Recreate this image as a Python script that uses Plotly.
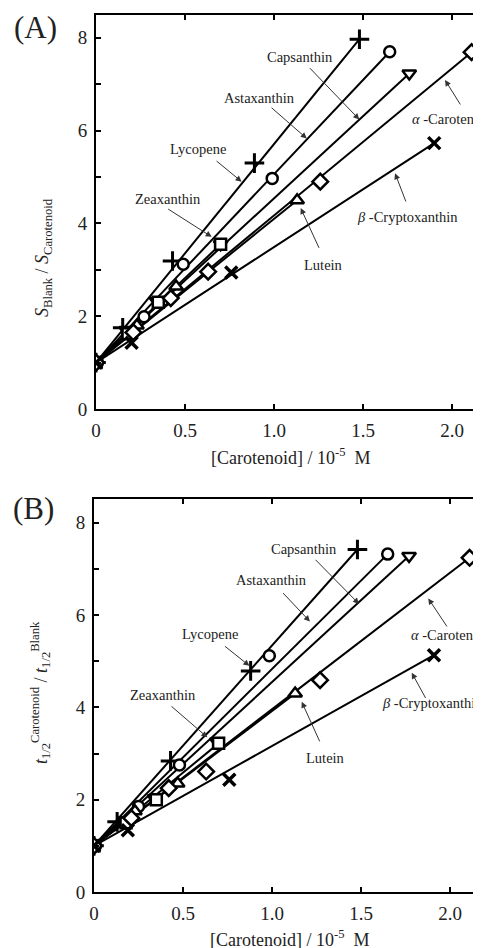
import plotly.graph_objects as go

W, H = 481, 948
OFF = 8  # browser default body margin
FONT = "Liberation Serif"

series_names = ["Lycopene", "Astaxanthin", "Capsanthin", "Zeaxanthin", "Lutein", "α-Carotene", "β-Cryptoxanthin"]
symbols = ["cross-thin", "circle", "triangle-down", "square", "triangle-up", "diamond", "x-thin"]

# Panel A: S_Blank / S_Carotenoid
A_lycopene_x = [0, 0.15, 0.43, 0.89, 1.48]
A_lycopene_y = [1, 1.75, 3.19, 5.30, 7.97]
A_astaxanthin_x = [0, 0.27, 0.49, 0.99, 1.65]
A_astaxanthin_y = [1, 1.99, 3.12, 4.97, 7.70]
A_capsanthin_x = [0, 0.17, 0.34, 0.70, 1.76]
A_capsanthin_y = [1, 1.70, 2.33, 3.55, 7.23]
A_zeaxanthin_x = [0, 0.18, 0.35, 0.70]
A_zeaxanthin_y = [1, 1.62, 2.30, 3.55]
A_lutein_x = [0, 0.23, 0.45, 1.13]
A_lutein_y = [1, 1.80, 2.64, 4.50]
A_acarotene_x = [0, 0.21, 0.42, 0.63, 1.26, 2.11]
A_acarotene_y = [1, 1.65, 2.39, 2.96, 4.90, 7.69]
A_bcrypto_x = [0, 0.20, 0.76, 1.90]
A_bcrypto_y = [1, 1.43, 2.94, 5.73]

# Panel B: t1/2(Carotenoid) / t1/2(Blank)
B_lycopene_x = [0, 0.13, 0.43, 0.88, 1.48]
B_lycopene_y = [1, 1.52, 2.84, 4.79, 7.42]
B_astaxanthin_x = [0, 0.25, 0.48, 0.985, 1.65]
B_astaxanthin_y = [1, 1.85, 2.75, 5.12, 7.32]
B_capsanthin_x = [0, 0.17, 0.34, 0.69, 1.77]
B_capsanthin_y = [1, 1.55, 2.03, 3.26, 7.28]
B_zeaxanthin_x = [0, 0.18, 0.35, 0.70]
B_zeaxanthin_y = [1, 1.50, 2.00, 3.22]
B_lutein_x = [0, 0.23, 0.47, 1.13]
B_lutein_y = [1, 1.75, 2.35, 4.30]
B_acarotene_x = [0, 0.21, 0.42, 0.63, 1.27, 2.11]
B_acarotene_y = [1, 1.60, 2.25, 2.61, 4.59, 7.24]
B_bcrypto_x = [0, 0.19, 0.76, 1.91]
B_bcrypto_y = [1, 1.34, 2.43, 5.13]

x_tickvals = [0, 0.5, 1.0, 1.5, 2.0]
x_ticktext = ["0", "0.5", "1.0", "1.5", "2.0"]
y_tickvals = [0, 2, 4, 6, 8]
y_ticktext = ["0", "2", "4", "6", "8"]

A_data = [(A_lycopene_x, A_lycopene_y), (A_astaxanthin_x, A_astaxanthin_y),
          (A_capsanthin_x, A_capsanthin_y), (A_zeaxanthin_x, A_zeaxanthin_y),
          (A_lutein_x, A_lutein_y), (A_acarotene_x, A_acarotene_y), (A_bcrypto_x, A_bcrypto_y)]
B_data = [(B_lycopene_x, B_lycopene_y), (B_astaxanthin_x, B_astaxanthin_y),
          (B_capsanthin_x, B_capsanthin_y), (B_zeaxanthin_x, B_zeaxanthin_y),
          (B_lutein_x, B_lutein_y), (B_acarotene_x, B_acarotene_y), (B_bcrypto_x, B_bcrypto_y)]

marker_sizes = {"cross-thin": 14, "circle": 11, "triangle-down": 12, "square": 11,
                "triangle-up": 12, "diamond": 12, "x-thin": 12}
marker_lw = {"cross-thin": 3, "x-thin": 3.5}

fig = go.Figure()


def add_panel(data, xa, ya):
    for (xs, ys) in data:
        fig.add_trace(go.Scatter(x=[xs[0], xs[-1]], y=[ys[0], ys[-1]], mode="lines",
                                 line=dict(color="black", width=2), xaxis=xa, yaxis=ya,
                                 showlegend=False, hoverinfo="skip"))
    for (xs, ys), sym, name in zip(data, symbols, series_names):
        fig.add_trace(go.Scatter(x=xs, y=ys, mode="markers", name=name,
                                 marker=dict(symbol=sym, size=marker_sizes[sym], color="white",
                                             line=dict(color="black", width=marker_lw.get(sym, 2.5))),
                                 xaxis=xa, yaxis=ya, showlegend=False))


add_panel(A_data, "x", "y")
add_panel(B_data, "x2", "y2")


def px(sx):
    return (sx - OFF) / W


def py(sy):
    return (H - (sy - OFF)) / H


axis_common = dict(showline=True, linecolor="black", linewidth=2, ticks="inside", ticklen=5,
                   tickwidth=1.5, tickcolor="black", showgrid=False, zeroline=False,
                   tickfont=dict(family=FONT, size=19, color="#222"), automargin=False,
                   ticklabelstandoff=3, mirror="ticks")
minor_y = dict(dtick=1, ticks="inside", ticklen=5, tickwidth=1.5, tickcolor="black")

RIGHT = 484  # screen x of the (off-window) right frame
fig.update_layout(
    width=W, height=H, margin=dict(l=0, r=0, t=0, b=0),
    paper_bgcolor="white", plot_bgcolor="white", showlegend=False,
    xaxis=dict(domain=[px(96), px(RIGHT)], range=[0, (RIGHT - 96) / 178], anchor="y",
               tickvals=x_tickvals, ticktext=x_ticktext, **axis_common),
    yaxis=dict(domain=[py(409), py(15)], range=[0, 394 / 46.4], anchor="x",
               tickvals=y_tickvals, ticktext=y_ticktext, minor=minor_y, **axis_common),
    xaxis2=dict(domain=[px(94), px(RIGHT)], range=[0, (RIGHT - 94) / 178], anchor="y2",
                tickvals=x_tickvals, ticktext=x_ticktext, **axis_common),
    yaxis2=dict(domain=[py(892), py(499)], range=[0, 393 / 46.16], anchor="x2",
                tickvals=y_tickvals, ticktext=y_ticktext, minor=minor_y, **axis_common),
)

ann = []
lab_font = dict(family=FONT, size=14.5, color="#222")

A_labels = [("Capsanthin", 1.146, 7.58, "center"), ("Astaxanthin", 0.916, 6.70, "center"),
            ("Lycopene", 0.575, 5.60, "center"), ("Zeaxanthin", 0.406, 4.52, "center"),
            ("Lutein", 1.277, 3.10, "center"), ("<i>α</i> -Carotene", 1.765, 6.24, "left"),
            ("<i>β</i> -Cryptoxanthin", 1.455, 4.14, "left")]
B_labels = [("Capsanthin", 1.18, 7.43, "center"), ("Astaxanthin", 0.998, 6.76, "center"),
            ("Lycopene", 0.652, 5.59, "center"), ("Zeaxanthin", 0.39, 4.27, "center"),
            ("Lutein", 1.298, 2.90, "center"), ("<i>α</i> -Carotene", 1.77, 5.57, "left"),
            ("<i>β</i> -Cryptoxanthin", 1.607, 4.09, "left")]
A_arrows = [(1.193, 7.38, 1.479, 6.24), (0.978, 6.52, 1.184, 5.83), (0.669, 5.37, 0.818, 4.90),
            (0.397, 4.33, 0.65, 3.71), (1.258, 3.43, 1.15, 4.33), (2.054, 6.52, 1.961, 7.09),
            (1.745, 4.43, 1.68, 5.08)]
B_arrows = [(1.236, 7.23, 1.489, 6.24), (1.054, 6.51, 1.213, 5.86), (0.727, 5.35, 0.873, 4.90),
            (0.427, 4.05, 0.637, 3.35), (1.273, 3.22, 1.167, 4.12), (1.99, 5.71, 1.878, 6.36),
            (1.869, 4.16, 1.785, 4.75)]

for labels, arrows, xr, yr in [(A_labels, A_arrows, "x", "y"), (B_labels, B_arrows, "x2", "y2")]:
    for t, x, y, xa in labels:
        ann.append(dict(text=t, x=x, y=y, xref=xr, yref=yr, xanchor=xa, yanchor="middle",
                        showarrow=False, font=lab_font))
    for tx, ty, hx, hy in arrows:
        ann.append(dict(text=" ", x=hx, y=hy, ax=tx, ay=ty, xref=xr, yref=yr, axref=xr, ayref=yr,
                        showarrow=True, arrowhead=2, arrowsize=1.2, arrowwidth=1,
                        arrowcolor="#333", font=dict(size=1)))

title_font = dict(family=FONT, size=18, color="#222")
xtitle = "[Carotenoid] / 10<sup>-5</sup>&nbsp;&nbsp;M"
common_paper = dict(xref="paper", yref="paper", showarrow=False, xanchor="center", yanchor="middle")
ann.append(dict(text=xtitle, x=px(291), y=py(456.7), font=title_font, **common_paper))
ann.append(dict(text=xtitle, x=px(290), y=py(938), font=title_font, **common_paper))
ann.append(dict(text="<i>S</i><sub>Blank</sub> / <i>S</i><sub>Carotenoid</sub>", x=px(43),
                y=py(258), textangle=-90, font=title_font, **common_paper))
ann.append(dict(text="<i>t</i><sub>1/2</sub><sup>Carotenoid</sup> / <i>t</i><sub>1/2</sub><sup>Blank</sup>",
                x=px(40), y=py(693), textangle=-90, font=title_font, **common_paper))
ann.append(dict(text="(A)", x=px(35), y=py(27), font=dict(family=FONT, size=31, color="#222"),
                **common_paper))
ann.append(dict(text="(B)", x=px(33), y=py(508), font=dict(family=FONT, size=31, color="#222"),
                **common_paper))

fig.update_layout(annotations=ann)
fig.write_html("out.html")
